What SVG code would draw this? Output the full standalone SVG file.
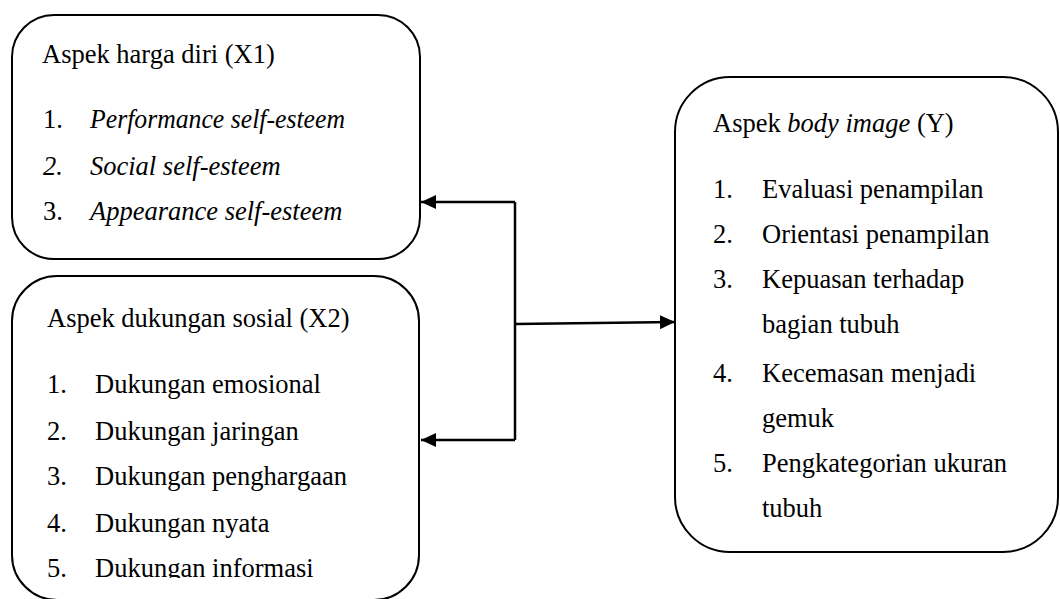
<svg xmlns="http://www.w3.org/2000/svg" width="1060" height="599" viewBox="0 0 1060 599">
<style>
.box{fill:#fff;stroke:#000;stroke-width:2}
.t{font-family:'Liberation Serif','Times New Roman',Times,'DejaVu Serif',serif;font-size:26.5px;fill:#000}
.i{font-style:italic}
.c{fill:none;stroke:#000;stroke-width:2.5}
</style>
<defs>
<marker id="ah" viewBox="0 0 15 14" refX="15" refY="7" markerWidth="15" markerHeight="14" markerUnits="userSpaceOnUse" orient="auto">
<path d="M0,0 L15,7 L0,14 Z" fill="#000"/>
</marker>
<clipPath id="clip2"><rect x="0" y="0" width="1060" height="578"/></clipPath>
</defs>
<rect width="1060" height="599" fill="#fff"/>
<g id="x1">
<rect class="box" x="12" y="15" width="408" height="244" rx="42" ry="42"/>
<text class="t" x="42" y="63">Aspek harga diri (X1)</text>
<text class="t" x="43" y="128">1.</text><text class="t i" x="90" y="128" textLength="255" lengthAdjust="spacingAndGlyphs">Performance self-esteem</text>
<text class="t i" x="43" y="175">2.</text><text class="t i" x="90" y="175">Social self-esteem</text>
<text class="t" x="43" y="220">3.</text><text class="t i" x="90" y="220">Appearance self-esteem</text>
</g>
<g id="x2">
<rect class="box" x="12" y="276" width="407" height="324" rx="45" ry="45"/>
<text class="t" x="47" y="327">Aspek dukungan sosial (X2)</text>
<text class="t" x="47" y="393">1.</text><text class="t" x="95" y="393">Dukungan emosional</text>
<text class="t" x="47" y="440">2.</text><text class="t" x="95" y="440">Dukungan jaringan</text>
<text class="t" x="47" y="485">3.</text><text class="t" x="95" y="485">Dukungan penghargaan</text>
<text class="t" x="47" y="532">4.</text><text class="t" x="95" y="532">Dukungan nyata</text>
<g clip-path="url(#clip2)">
<text class="t" x="47" y="577">5.</text><text class="t" x="95" y="577">Dukungan informasi</text>
</g>
</g>
<g id="y">
<rect class="box" x="675" y="77" width="383" height="475" rx="55" ry="55"/>
<text class="t" x="713" y="132">Aspek <tspan class="i">body image</tspan> (Y)</text>
<text class="t" x="713" y="198">1.</text><text class="t" x="762" y="198">Evaluasi penampilan</text>
<text class="t" x="713" y="243">2.</text><text class="t" x="762" y="243">Orientasi penampilan</text>
<text class="t" x="713" y="288">3.</text><text class="t" x="762" y="288">Kepuasan terhadap</text>
<text class="t" x="762" y="333">bagian tubuh</text>
<text class="t" x="713" y="382">4.</text><text class="t" x="762" y="382">Kecemasan menjadi</text>
<text class="t" x="762" y="427">gemuk</text>
<text class="t" x="713" y="472">5.</text><text class="t" x="762" y="472">Pengkategorian ukuran</text>
<text class="t" x="762" y="517">tubuh</text>
</g>
<g id="connectors">
<polyline class="c" points="515,202 515,440"/>
<line class="c" x1="515" y1="202" x2="421" y2="202" marker-end="url(#ah)"/>
<line class="c" x1="515" y1="440" x2="421" y2="440" marker-end="url(#ah)"/>
<line class="c" x1="515" y1="324" x2="675" y2="322" marker-end="url(#ah)"/>
</g>
</svg>
